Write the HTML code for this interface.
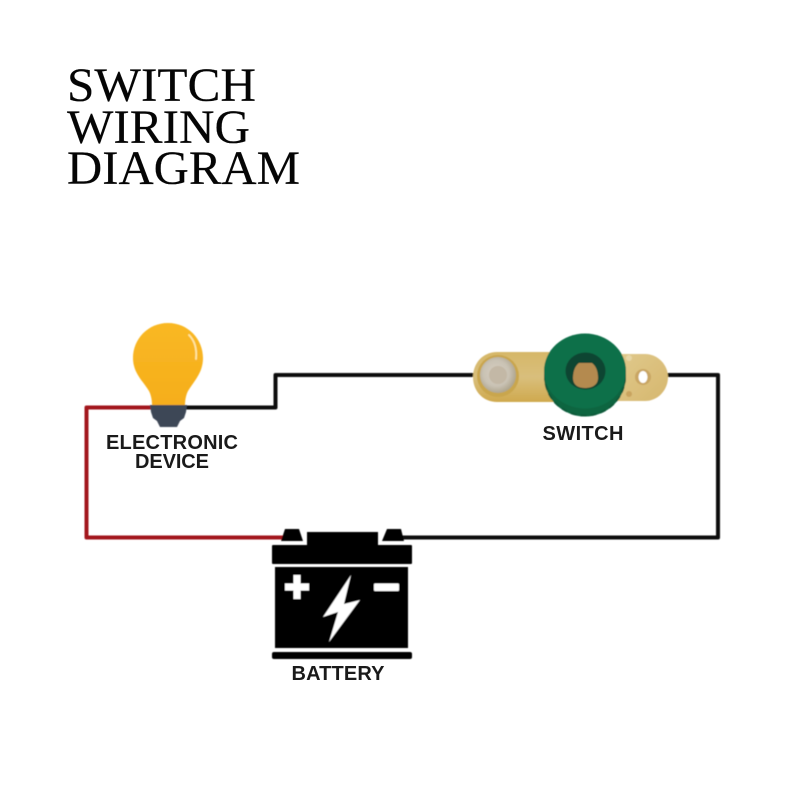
<!DOCTYPE html>
<html>
<head>
<meta charset="utf-8">
<style>
html,body{margin:0;padding:0;background:#fff}
svg{display:block}
</style>
</head>
<body>
<svg width="800" height="800" viewBox="0 0 800 800" xmlns="http://www.w3.org/2000/svg">
<defs>
<filter id="soft" x="-10%" y="-10%" width="120%" height="120%"><feGaussianBlur stdDeviation="0.5"/></filter>
<linearGradient id="brass" x1="0" y1="0" x2="0" y2="1">
<stop offset="0" stop-color="#d6b768"/>
<stop offset="0.5" stop-color="#d9bf7c"/>
<stop offset="1" stop-color="#cfa94e"/>
</linearGradient>
<linearGradient id="brass2" x1="0" y1="0" x2="1" y2="1">
<stop offset="0" stop-color="#e0c98c"/>
<stop offset="1" stop-color="#d6b76e"/>
</linearGradient>
<linearGradient id="bulb" x1="0" y1="0" x2="0" y2="1">
<stop offset="0" stop-color="#f9b824"/>
<stop offset="1" stop-color="#f6ae1b"/>
</linearGradient>
<radialGradient id="nut" cx="0.45" cy="0.45" r="0.6">
<stop offset="0" stop-color="#d8cfc0"/>
<stop offset="0.6" stop-color="#c9c2b4"/>
<stop offset="1" stop-color="#a99f86"/>
</radialGradient>
</defs>
<rect width="800" height="800" fill="#fff"/>
<g font-family="'Liberation Serif',serif" font-size="48" fill="#050505" stroke="#050505" stroke-width="0.15">
<text x="67" y="101" textLength="189" lengthAdjust="spacingAndGlyphs">SWITCH</text>
<text x="67" y="143" textLength="183" lengthAdjust="spacingAndGlyphs">WIRING</text>
<text x="67" y="184" textLength="233" lengthAdjust="spacingAndGlyphs">DIAGRAM</text>
</g>
<g filter="url(#soft)">
<!-- wires -->
<path d="M155 407.500H86.500V537.500H285" fill="none" stroke="#a3121f" stroke-width="4" stroke-linejoin="round"/>
<path d="M185 407.500H275.500V375H480" fill="none" stroke="#111" stroke-width="4" stroke-linejoin="round"/>
<path d="M662 375H718V537.500H400" fill="none" stroke="#111" stroke-width="4" stroke-linejoin="round"/>
<!-- bulb -->
<path d="M168 323C148 323 133 339 133 358C133 373 143 381 149 391C151 395 152 400 152 405H185C185 400 186 395 188 391C194 381 203 373 203 358C203 339 188 323 168 323Z" fill="url(#bulb)"/>
<path d="M189 335C195 341 197 349 196 359" fill="none" stroke="#ffe7a6" stroke-width="1.800" stroke-linecap="round"/>
<path d="M150 405H187L186 412L184 418L180 421L177 427H160L157 421L153 418L151 412Z" fill="#3e4757"/>
<!-- switch -->
<path d="M497 352H560V402H497C483 402 473 391 473 377C473 363 483 352 497 352Z" fill="url(#brass)"/>
<path d="M618 354H645C658 354 668 365 668 377C668 390 658 401 645 401H618Z" fill="url(#brass2)"/>
<circle cx="498" cy="376" r="21" fill="#c9a64e"/>
<circle cx="498" cy="375" r="18" fill="url(#nut)"/>
<circle cx="498" cy="375" r="9" fill="#c3b8a6"/>
<circle cx="643" cy="377" r="8" fill="#c9a663"/>
<ellipse cx="643" cy="377" rx="4.500" ry="6" fill="#fff"/>
<circle cx="629" cy="358" r="3" fill="#e7d6a6"/>
<circle cx="629" cy="394" r="3" fill="#c9a45f"/>
<!-- knob -->
<ellipse cx="585" cy="376" rx="41" ry="40.500" fill="#0c6541"/>
<ellipse cx="585" cy="377" rx="40" ry="38.500" fill="none" stroke="#0a5a3a" stroke-width="2" stroke-dasharray="6 4"/>
<ellipse cx="585" cy="371" rx="41" ry="37.500" fill="#10704a"/>
<ellipse cx="585.500" cy="371" rx="20" ry="18.500" fill="#0a4530"/>
<path d="M573 378C573 370 576 365 579 363H592C596 366 598 371 598 378C598 385 592 388 585 388C578 388 573 385 573 378Z" fill="#b48a50"/>
<!-- battery -->
<path d="M285 529H299L303 541H281Z" fill="#000"/>
<path d="M387 529H401L404 541H382Z" fill="#000"/>
<rect x="307" y="532" width="71" height="14" fill="#000"/>
<rect x="272" y="545" width="140" height="19" rx="1" fill="#000"/>
<rect x="275" y="567" width="133" height="81" fill="#000"/>
<rect x="272" y="652" width="140" height="7" rx="2" fill="#000"/>
<path d="M293.500 575h7v8.500h8.500v7h-8.500v8.500h-7v-8.500h-8.500v-7h8.500z" fill="#fff"/>
<rect x="374" y="583.500" width="25" height="7.500" rx="1" fill="#fff"/>
<path d="M351 575L323 617L338 612L329 642L360 600L344 604Z" fill="#fff"/>
</g>
<g font-family="'Liberation Sans',sans-serif" font-weight="700" fill="#1a1a1a" text-anchor="middle">
<text x="172" y="449" font-size="20" textLength="132" lengthAdjust="spacing">ELECTRONIC</text>
<text x="172" y="468" font-size="20" textLength="74" lengthAdjust="spacing">DEVICE</text>
<text x="583" y="440" font-size="20" textLength="81" lengthAdjust="spacing">SWITCH</text>
<text x="338" y="680" font-size="20" textLength="93" lengthAdjust="spacing">BATTERY</text>
</g>
</svg>
</body>
</html>
